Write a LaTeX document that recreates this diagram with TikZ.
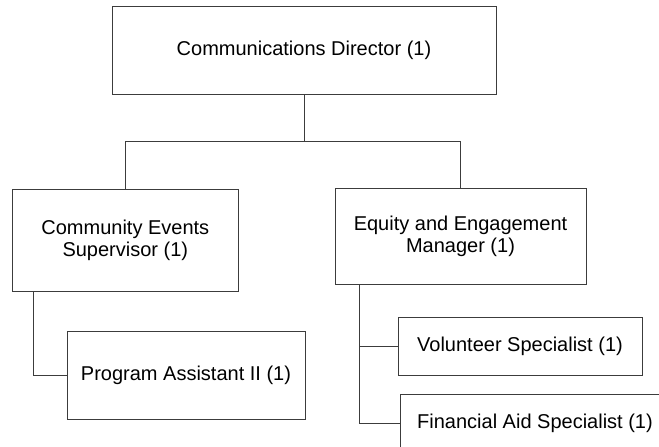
\documentclass[tikz,border=0pt]{standalone}
\usepackage{fontspec}
\setmainfont{Liberation Sans}
\usepackage{tikz}
\usepackage{xcolor}
\usetikzlibrary{positioning}
\definecolor{boxline}{HTML}{3C3C3C}
\tikzstyle{role} = [rectangle, 
inner sep=0pt, 
text centered, 
align=center, 
font=\fontsize{20}{22}\selectfont, 
line width=1pt, 
draw=boxline]
\tikzstyle{link} = [line width=1pt, draw=boxline]

\begin{document}
\begin{tikzpicture}[x=1pt, y=-1pt]
        \useasboundingbox (0,0) rectangle (659,447);
        \clip (0,0) rectangle (659,447);

        % Cajas del organigrama
        \node [role, minimum width=384pt, minimum height=88pt] (dir) at (304,50) {Communications Director (1)};
        \node [role, minimum width=226pt, minimum height=102pt] (ces) at (125.3,240) {Community Events\\ Supervisor (1)};
        \node [role, minimum width=251pt, minimum height=96pt] (eem) at (460.5,236) {Equity and Engagement\\ Manager (1)};
        \node [role, minimum width=238pt, minimum height=88pt] (pa) at (186,375) {Program Assistant II (1)};
        \node [role, minimum width=244pt, minimum height=58pt] (vs) at (520,346) {Volunteer Specialist (1)};
        \node [role, minimum width=270pt, minimum height=58pt] (fas) at (535,423) {Financial Aid Specialist (1)};
        \coordinate (split) at (dir.south |- 0,141);

        % Conexiones
        \path [link] (dir.south) -- (split);
        \path [link] (split) -| (ces.north);
        \path [link] (split) -| (eem.north);
        \path [link] ([xshift=22pt]ces.south west) |- (pa.west);
        \path [link] ([xshift=25pt]eem.south west) |- (vs.west);
        \path [link] ([xshift=25pt]eem.south west) |- (fas.west);
    \end{tikzpicture}
\end{document}
